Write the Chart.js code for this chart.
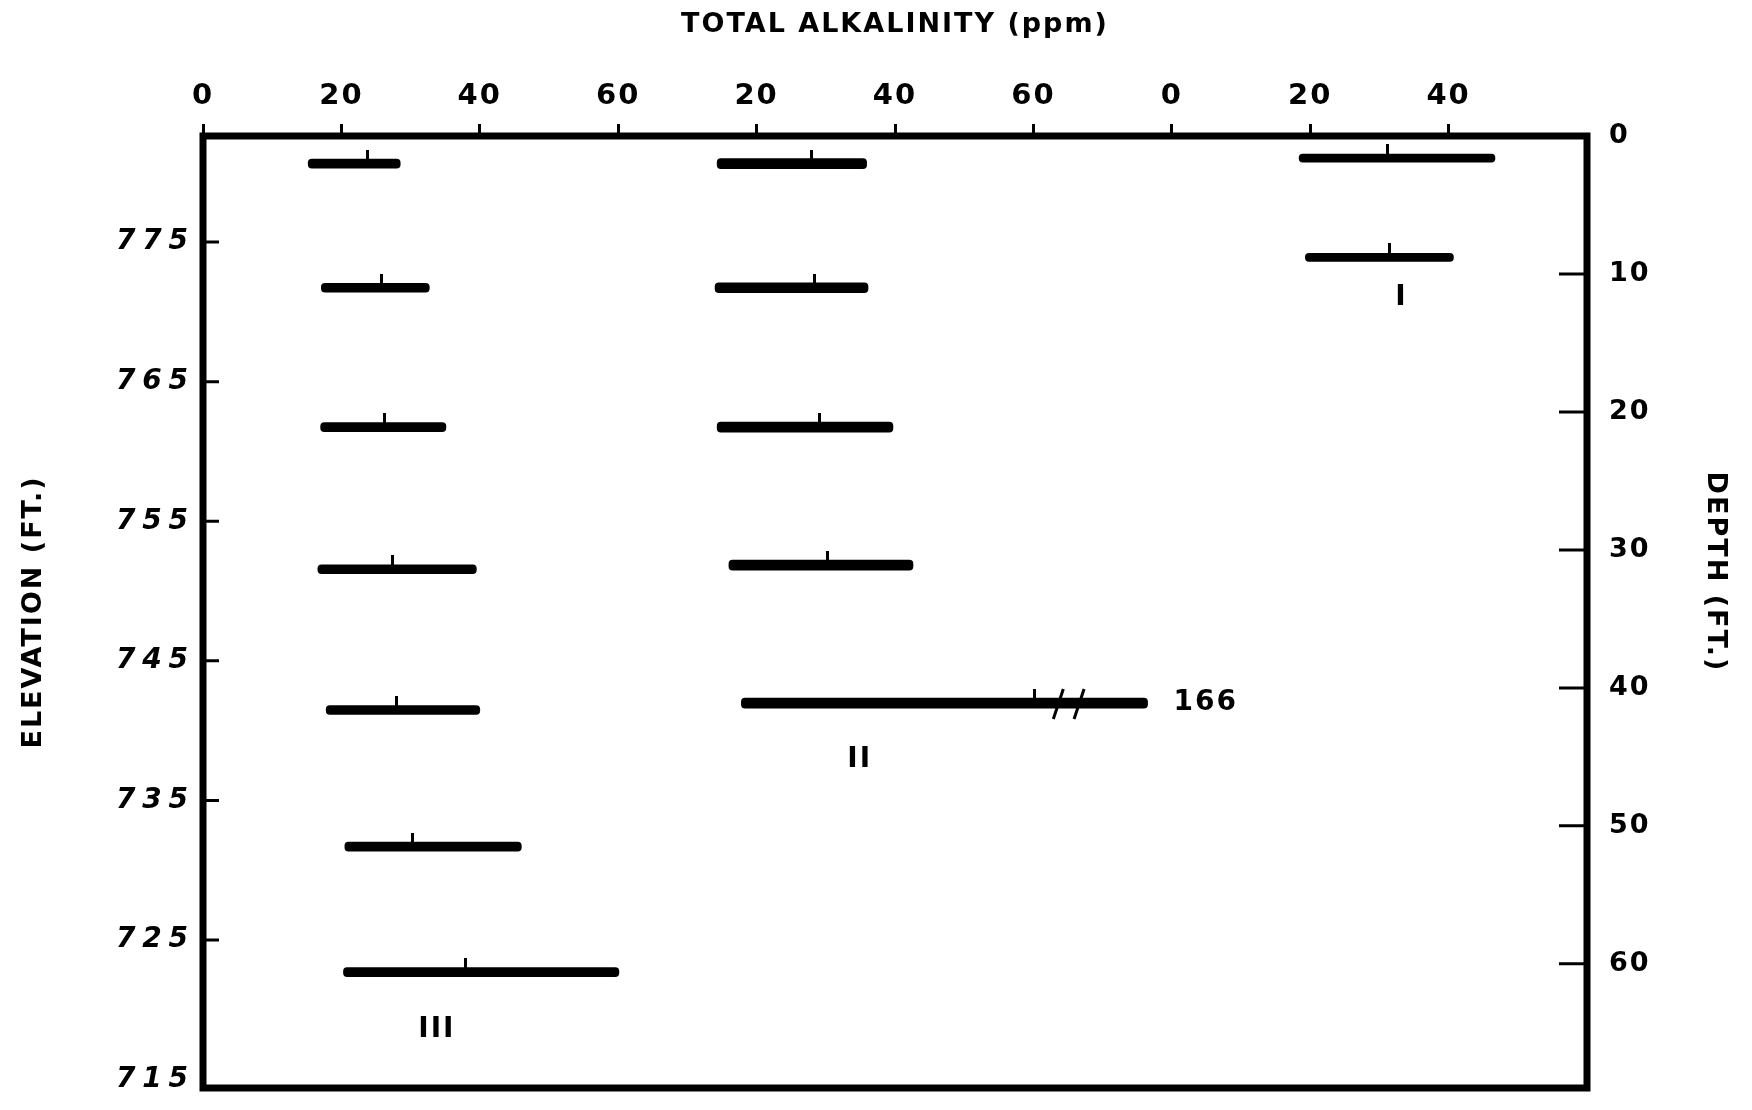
<!DOCTYPE html>
<html>
<head>
<meta charset="utf-8">
<script src="https://cdn.jsdelivr.net/npm/chart.js@4.4.1/dist/chart.umd.min.js"></script>
<style>
html, body { margin:0; padding:0; background:#fff; }
</style>
</head>
<body>
<canvas id="c" width="1752" height="1110"></canvas>
<script>
// three profiles share one ppm axis, each starting at its own zero
const topTickLabels = ['0','20','40','60','20','40','60','0','20','40'];
const elevTicks = [715, 725, 735, 745, 755, 765, 775];
const depthTicks = [0, 10, 20, 30, 40, 50, 60];

// profile III
const depthIII = [2.0, 11.0, 21.1, 31.4, 41.6, 51.5, 60.6];
const minIII  = [15.2, 17.1, 17.0, 16.6, 17.8, 20.5, 20.3];
const maxIII  = [28.5, 32.7, 35.1, 39.5, 40.0, 46.0, 60.1];
const meanIII = [23.7, 25.8, 26.3, 27.4, 28.0, 30.3, 38.0];

// profile II (last max is off scale, drawn broken)
const depthII = [2.0, 11.0, 21.1, 31.1, 41.1];
const minII  = [14.3, 14.0, 14.3, 16.0, 17.8];
const maxII  = [35.9, 36.1, 39.7, 42.6, 166];
const meanII = [27.9, 28.3, 29.1, 30.3, 60.1];

// profile I
const depthI = [1.6, 8.8];
const minI  = [18.4, 19.3];
const maxI  = [46.7, 40.7];
const meanI = [31.1, 31.4];

const offIII = 0, offII = 60, offI = 140;   // where each profile's 0 sits on the shared axis
const X_MAX = 200, DEPTH_MAX = 69;
const ELEV_MIN = 714.4, ELEV_MAX = 782.6;    // the scanned elevation scale is a touch stretched vs depth
const cutII = 76.5;            // drawn end of the 166 bar
const breakII = [63.6, 66.6];  // the // marks
const F = "'DejaVu Sans', sans-serif";

const rangeData = (off, d, lo, hi, cut) => d.map((v, i) => ({y:v, x:[off + lo[i], off + Math.min(hi[i], cut)]}));
const meanData = (off, d, m) => d.map((v, i) => ({y:v, x:off + m[i]}));

// mean mark: a short stroke standing up from the bar
const tickMark = (() => {
	const c = document.createElement('canvas');
	c.width = 3; c.height = 28;
	const g = c.getContext('2d');
	g.fillStyle = '#000';
	g.fillRect(0, 0, 3, 14);
	return c;
})();

const bar = (data, t) => ({type:'bar', indexAxis:'y', data, backgroundColor:'#000', barThickness:t, borderRadius:4, borderSkipped:false, grouped:false, xAxisID:'x', yAxisID:'y'});
const mean = data => ({type:'scatter', data, pointStyle:tickMark, pointRadius:3, xAxisID:'x', yAxisID:'y'});

// fixed box sizes so the frame lands where the original's does
const fitBox = (w, h) => s => {
	if (w) s.width = w;
	if (h) s.height = h;
	s.paddingTop = s.paddingBottom = s.paddingLeft = s.paddingRight = 0;
};

const frame = {
	id:'frame',
	beforeUpdate: c => { c.ctx.letterSpacing = '2px' },
	beforeDraw: c => { c.ctx.letterSpacing = '2px' },
	afterDraw: c => {
		const {ctx, chartArea:a, scales:s} = c;
		ctx.save();
		ctx.strokeStyle = '#000';
		ctx.lineWidth = 7;
		ctx.lineJoin = 'miter';
		ctx.strokeRect(a.left, a.top, a.right - a.left, a.bottom - a.top);

		ctx.lineWidth = 3;
		ctx.beginPath();
		elevTicks.slice(1).forEach(v => { const y = s.elev.getPixelForValue(v); ctx.moveTo(a.left, y); ctx.lineTo(a.left + 16, y) });
		depthTicks.slice(1).forEach(v => { const y = s.y.getPixelForValue(v); ctx.moveTo(a.right - 28, y); ctx.lineTo(a.right, y) });
		ctx.stroke();

		// break on the 166 bar
		const yb = s.y.getPixelForValue(depthII[4]);
		ctx.lineWidth = 3;
		ctx.beginPath();
		breakII.forEach(v => { const x = s.x.getPixelForValue(offII + v); ctx.moveTo(x - 5, yb + 16); ctx.lineTo(x + 5, yb - 14) });
		ctx.stroke();

		ctx.fillStyle = '#000';
		ctx.textBaseline = 'middle';
		ctx.font = `bold 28px ${F}`;
		ctx.textAlign = 'left';
		ctx.fillText(String(maxII[4]), s.x.getPixelForValue(offII + cutII) + 26, yb);

		ctx.textAlign = 'center';
		[['III', offIII + 33.8, 64.8], ['II', offII + 34.9, 45.2], ['I', offI + 33.2, 11.7]].forEach(([t, x, d]) =>
			ctx.fillText(t, s.x.getPixelForValue(x), s.y.getPixelForValue(d)));

		// right-hand title sits a little above the middle in the original
		ctx.font = `bold 27px ${F}`;
		ctx.translate(a.right + 128, (a.top + a.bottom) / 2 - 40);
		ctx.rotate(Math.PI / 2);
		ctx.fillText('DEPTH (FT.)', 0, 0);
		ctx.restore();
	}
};

new Chart(document.getElementById('c'), {
	type:'bar',
	data:{
		datasets:[
			bar(rangeData(offIII, depthIII, minIII, maxIII, Infinity), 9),
			bar(rangeData(offII, depthII, minII, maxII, cutII), 10),
			bar(rangeData(offI, depthI, minI, maxI, Infinity), 8),
			mean(meanData(offIII, depthIII, meanIII)),
			mean(meanData(offII, depthII, meanII)),
			mean(meanData(offI, depthI, meanI)),
		]
	},
	options:{
		responsive:false,
		animation:false,
		events:[],
		layout:{padding:{bottom:22}},
		plugins:{legend:{display:false}, tooltip:{enabled:false}},
		scales:{
			x:{
				type:'linear', position:'top', min:0, max:X_MAX, offset:false,
				afterBuildTicks: s => { s.ticks = topTickLabels.map((_, i) => ({value:i * 20})) },
				afterFit: fitBox(0, 136),
				grid:{display:true, offset:false, drawOnChartArea:false, drawTicks:true, tickLength:12, lineWidth:3, color:'#000'},
				border:{display:false},
				ticks:{callback:(v, i) => topTickLabels[i], color:'#000', font:{family:F, size:29, weight:'bold'}, padding:10, maxRotation:0, autoSkip:false},
				title:{display:true, text:'TOTAL ALKALINITY (ppm)', color:'#000', font:{family:F, size:27, weight:'bold'}, padding:{top:9, bottom:0}},
			},
			y:{
				type:'linear', position:'right', reverse:true, min:0, max:DEPTH_MAX, offset:false,
				afterBuildTicks: s => { s.ticks = depthTicks.map(v => ({value:v})) },
				afterFit: fitBox(165, 0),
				grid:{display:false, offset:false}, border:{display:false},
				ticks:{color:'#000', font:{family:F, size:27, weight:'bold'}, padding:14},
			},
			elev:{
				type:'linear', position:'left', min:ELEV_MIN, max:ELEV_MAX, offset:false,
				afterBuildTicks: s => { s.ticks = elevTicks.map(v => ({value:v})) },
				afterFit: fitBox(203, 0),
				grid:{display:false, offset:false}, border:{display:false},
				ticks:{callback: v => String(v).split('').join('\u200a'), color:'#000', font:{family:F, size:28, weight:'bold', style:'italic'}, padding:5},
				title:{display:true, text:'ELEVATION (FT.)', color:'#000', font:{family:F, size:27, weight:'bold'}, padding:{top:18, bottom:0}},
			},
		}
	},
	plugins:[frame]
});
</script>
</body>
</html>
